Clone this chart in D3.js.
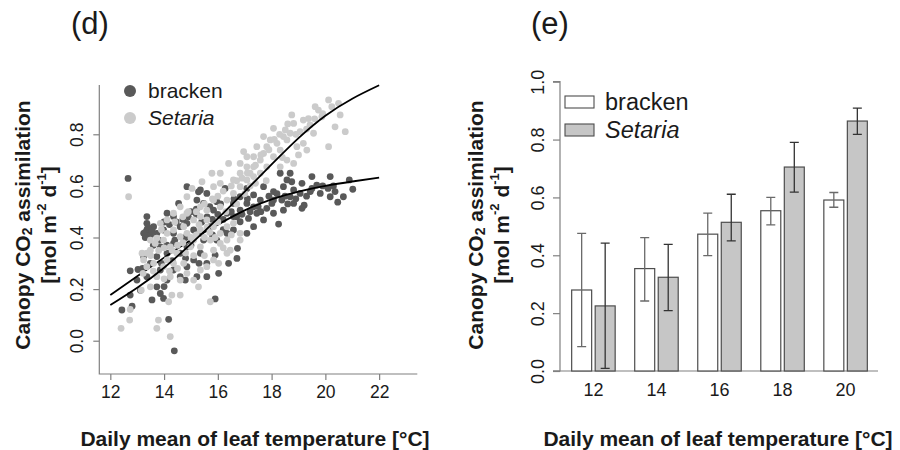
<!DOCTYPE html>
<html>
<head>
<meta charset="utf-8">
<script src="https://cdn.jsdelivr.net/npm/d3@7"></script>
<style>
  body { margin: 0; background: #fff; }
  svg { font-family: "Liberation Sans", Arial, Helvetica, sans-serif; }
</style>
</head>
<body>
<div id="chart"></div>
<script>
// ---- panel (d): daily values, [temperature, assimilation]
var brackenPoints = [
  [12.66,0.629],[12.43,0.119],[12.74,0.177],[12.81,0.134],[12.74,0.271],[13.03,0.276],
  [14.17,0.083],[14.38,-0.039],[15.90,0.162],[16.03,0.261],[15.90,0.332],[16.40,0.300],
  [16.71,0.319],[16.73,0.358],[17.08,0.416],[17.33,0.442],[17.70,0.468],[18.26,0.452],
  [19.21,0.525],[20.46,0.537],[20.67,0.558],[21.02,0.587],[20.89,0.623],[20.18,0.636],
  [19.50,0.636],[18.69,0.649],[18.75,0.616],[18.44,0.597],[19.13,0.610],[19.68,0.603],
  [20.10,0.590],[20.36,0.578],[20.18,0.558],[19.81,0.571],[19.44,0.578],[19.06,0.571],
  [18.69,0.558],[18.38,0.545],[18.01,0.532],[17.82,0.513],[18.07,0.494],[18.44,0.506],
  [18.82,0.532],[17.58,0.545],[17.33,0.565],[17.08,0.532],[16.83,0.506],[16.58,0.481],
  [16.34,0.494],[16.34,0.416],[16.58,0.429],[16.83,0.461],[17.14,0.474],[17.45,0.494],
  [17.70,0.597],[18.07,0.578],[17.08,0.590],[16.27,0.590],[15.59,0.571],[15.35,0.584],
  [15.22,0.545],[15.47,0.532],[15.84,0.506],[16.09,0.468],[15.72,0.442],[15.35,0.416],
  [15.47,0.390],[15.10,0.429],[14.85,0.455],[14.60,0.442],[14.35,0.481],[14.11,0.494],
  [14.54,0.532],[14.35,0.416],[13.98,0.429],[13.73,0.416],[13.36,0.429],[13.24,0.416],
  [13.42,0.403],[13.61,0.442],[13.36,0.455],[13.86,0.364],[14.11,0.339],[13.73,0.326],
  [13.49,0.300],[13.24,0.326],[13.86,0.274],[14.11,0.235],[13.73,0.209],[13.55,0.158],
  [13.86,0.183],[13.98,0.164],[14.35,0.274],[14.60,0.248],[14.85,0.287],[15.10,0.313],
  [15.35,0.339],[15.59,0.300],[15.59,0.248],[15.22,0.248],[14.79,0.235],[14.60,0.339],
  [14.85,0.364],[14.35,0.377],[12.99,0.235],[13.12,0.196],[13.36,0.248],[15.96,0.539],
  [16.58,0.532],[16.83,0.558],[15.96,0.390],[14.85,0.597],[15.28,0.577],[18.32,0.649],
  [18.57,0.623],[18.82,0.584],[18.07,0.545],[19.13,0.513],[17.33,0.519],[13.36,0.481],
  [13.30,0.420],[13.45,0.430],[13.50,0.410],[13.40,0.440],[13.55,0.425],[13.30,0.400],
  [14.00,0.460],[14.20,0.450],[14.45,0.460],[14.70,0.470],[14.90,0.480],[15.00,0.500],
  [15.20,0.490],[15.40,0.460],[15.60,0.480],[15.80,0.470],[16.00,0.490],[16.20,0.470],
  [16.50,0.500],[16.70,0.480],[16.90,0.490],[17.20,0.500],[17.50,0.520],[17.60,0.500],
  [17.90,0.560],[18.20,0.570],[18.50,0.560],[18.60,0.530],[18.90,0.550],[19.30,0.560],
  [19.50,0.590],[19.90,0.600],[20.30,0.600],[17.10,0.550],[16.60,0.550],[16.10,0.530],
  [15.70,0.520],[15.20,0.510],[14.80,0.400],[14.40,0.390],[14.10,0.370],[13.80,0.390],
  [15.00,0.370],[15.80,0.410],[16.20,0.430],[13.90,0.300],[14.30,0.310],[14.80,0.320],
  [15.30,0.300],[13.60,0.370],[14.00,0.210],[13.20,0.280]
];
var setariaPoints = [
  [12.68,0.558],[12.40,0.048],[12.72,0.080],[12.74,0.121],[13.73,0.048],[14.23,0.016],
  [13.79,0.080],[14.17,0.151],[14.29,0.177],[14.60,0.177],[15.28,0.209],[15.72,0.151],
  [13.15,0.196],[13.22,0.261],[13.36,0.287],[13.24,0.313],[13.18,0.339],[13.49,0.351],
  [13.67,0.377],[13.49,0.390],[13.73,0.397],[13.98,0.390],[14.23,0.364],[14.48,0.339],
  [14.73,0.300],[14.35,0.300],[14.11,0.313],[14.85,0.261],[14.60,0.235],[15.10,0.235],
  [15.35,0.274],[15.59,0.287],[15.84,0.313],[16.03,0.300],[16.34,0.339],[16.46,0.351],
  [16.83,0.390],[16.09,0.377],[15.84,0.351],[15.35,0.364],[15.10,0.390],[14.85,0.416],
  [14.60,0.403],[14.35,0.429],[14.11,0.416],[13.86,0.455],[14.11,0.468],[14.35,0.494],
  [14.60,0.519],[14.85,0.494],[15.10,0.468],[15.35,0.481],[15.59,0.468],[15.84,0.442],
  [16.09,0.416],[16.34,0.442],[16.58,0.455],[16.83,0.416],[15.35,0.519],[15.59,0.506],
  [15.84,0.545],[16.09,0.519],[16.34,0.545],[16.58,0.571],[16.83,0.597],[17.08,0.623],
  [17.20,0.649],[17.33,0.674],[17.58,0.700],[17.70,0.726],[17.82,0.752],[17.95,0.778],
  [18.07,0.823],[17.70,0.791],[17.45,0.752],[17.33,0.713],[17.08,0.674],[16.83,0.649],
  [16.58,0.623],[16.40,0.687],[16.09,0.649],[15.78,0.649],[15.41,0.616],[15.04,0.590],
  [14.85,0.558],[16.09,0.610],[15.84,0.597],[17.33,0.636],[17.58,0.649],[17.82,0.674],
  [18.07,0.713],[18.32,0.739],[18.57,0.778],[18.69,0.804],[18.82,0.842],[18.75,0.875],
  [19.06,0.810],[19.18,0.765],[19.31,0.739],[18.94,0.752],[18.82,0.687],[18.57,0.700],
  [18.32,0.674],[18.20,0.765],[18.44,0.791],[18.51,0.817],[19.18,0.855],[19.43,0.836],
  [19.56,0.804],[19.74,0.894],[19.87,0.868],[20.12,0.933],[20.24,0.907],[20.49,0.920],
  [20.55,0.875],[20.36,0.829],[20.12,0.752],[20.74,0.810],[19.62,0.907],[19.37,0.861],
  [16.83,0.687],[17.08,0.713],[16.96,0.733],[14.73,0.442],[14.98,0.364],[13.49,0.209],
  [13.73,0.248],[13.98,0.287],[14.23,0.248],[13.36,0.339],[13.61,0.300],[15.72,0.390],
  [16.34,0.390],[15.35,0.429],
  [13.50,0.330],[13.80,0.350],[14.00,0.360],[14.30,0.350],[14.50,0.370],[14.70,0.380],
  [15.00,0.400],[15.20,0.410],[15.50,0.400],[15.70,0.420],[15.90,0.400],[14.40,0.460],
  [14.70,0.480],[14.90,0.500],[15.20,0.500],[15.50,0.530],[15.80,0.550],[16.00,0.560],
  [16.20,0.580],[16.50,0.600],[16.70,0.620],[16.90,0.630],[17.10,0.650],[17.40,0.680],
  [17.60,0.720],[17.90,0.740],[18.10,0.780],[18.30,0.800],[18.60,0.840],[18.90,0.800],
  [19.30,0.820],[19.60,0.860],[19.90,0.880],[17.20,0.600],[17.00,0.570],[16.70,0.530],
  [16.30,0.500],[16.00,0.460],[15.60,0.440],[15.30,0.450],[14.20,0.270],[14.50,0.280],
  [14.00,0.240],[13.60,0.270],[13.90,0.430],[14.80,0.340],[15.10,0.330],[15.50,0.330],
  [16.20,0.360],[16.50,0.410],[17.40,0.610],[17.80,0.620],[18.40,0.710],[19.00,0.720]
];
// fitted curves
var brackenFit = [[12,0.177],[13,0.25],[14,0.322],[15,0.39],[16,0.45],[17,0.505],[18,0.548],[19,0.578],[20,0.600],[21,0.617],[22,0.632]];
var setariaFit = [[12,0.138],[13,0.205],[14,0.283],[15,0.375],[16,0.474],[17,0.578],[18,0.683],[19,0.785],[20,0.872],[21,0.938],[22,0.99]];
var xTicksD = [12,14,16,18,20,22];
var yTicksD = [0.0,0.2,0.4,0.6,0.8];

// ---- panel (e): binned means with error bars
var tempBins = ["12","14","16","18","20"];
var species = ["bracken","Setaria"];
var brackenMean = [0.280,0.354,0.473,0.554,0.591];
var brackenLow  = [0.084,0.242,0.399,0.505,0.566];
var brackenHigh = [0.476,0.461,0.546,0.600,0.617];
var setariaMean = [0.225,0.324,0.514,0.705,0.864];
var setariaLow  = [0.009,0.209,0.450,0.618,0.818];
var setariaHigh = [0.442,0.438,0.611,0.790,0.909];
var yTicksE = [0.0,0.2,0.4,0.6,0.8,1.0];

var darkPt = "#595959", lightPt = "#cbcbcb", axisCol = "#808080", textCol = "#1a1a1a";

var svg = d3.select("#chart").append("svg")
  .attr("width", 900).attr("height", 450);

// y title helper (two lines, rotated)
function yTitle(x1, x2, cy) {
  var t1 = svg.append("text")
    .attr("transform", "translate(" + x1 + "," + cy + ") rotate(-90)")
    .attr("text-anchor", "middle").attr("dominant-baseline", "central")
    .attr("font-weight", "bold").attr("font-size", 21).attr("fill", textCol);
  t1.append("tspan").text("Canopy CO");
  t1.append("tspan").attr("font-size", 14).attr("dy", 5).text("2");
  t1.append("tspan").attr("dy", -5).text(" assimilation");
  var t2 = svg.append("text")
    .attr("transform", "translate(" + x2 + "," + cy + ") rotate(-90)")
    .attr("text-anchor", "middle").attr("dominant-baseline", "central")
    .attr("font-weight", "bold").attr("font-size", 21).attr("fill", textCol);
  t2.append("tspan").text("[mol m");
  t2.append("tspan").attr("font-size", 13).attr("dy", -7).text("-2");
  t2.append("tspan").attr("dy", 7).text(" d");
  t2.append("tspan").attr("font-size", 13).attr("dy", -7).text("-1");
  t2.append("tspan").attr("dy", 7).text("]");
}

function xTitle(cx) {
  svg.append("text").attr("x", cx).attr("y", 446)
    .attr("text-anchor", "middle").attr("font-weight", "bold")
    .attr("font-size", 21).attr("fill", textCol)
    .text("Daily mean of leaf temperature [°C]");
}

// ================= panel (d) =================
var xD = d3.scaleLinear().domain([11.59, 23.42]).range([99.3, 417.3]);
var yD = d3.scaleLinear().domain([-0.129, 0.991]).range([374, 85]);

svg.append("text").attr("x", 71).attr("y", 34).attr("font-size", 31).attr("fill", textCol).text("(d)");

// L-shaped box
svg.append("path")
  .attr("d", "M" + xD.range()[0] + "," + yD.range()[1] + "V" + yD.range()[0] + "H" + xD.range()[1])
  .attr("fill", "none").attr("stroke", axisCol).attr("stroke-width", 1.2);

var xAxisD = svg.append("g").attr("transform", "translate(0," + yD.range()[0] + ")")
  .call(d3.axisBottom(xD).tickValues(xTicksD).tickSize(6).tickPadding(6).tickFormat(d3.format("d")));
var yAxisD = svg.append("g").attr("transform", "translate(" + xD.range()[0] + ",0)")
  .call(d3.axisLeft(yD).tickValues(yTicksD).tickSize(6).tickFormat(d3.format(".1f")));
[xAxisD, yAxisD].forEach(function(a) {
  a.select(".domain").remove();
  a.selectAll(".tick line").attr("stroke", axisCol).attr("stroke-width", 1.2);
  a.selectAll("text").attr("font-size", 17.5).attr("fill", textCol).attr("font-family", null);
});
yAxisD.selectAll(".tick text")
  .attr("x", null).attr("dy", null)
  .attr("text-anchor", "middle").attr("dominant-baseline", "central")
  .attr("transform", "translate(-22,0) rotate(-90)");

var line = d3.line().x(function(d) { return xD(d[0]); }).y(function(d) { return yD(d[1]); })
  .curve(d3.curveNatural);

svg.append("g").selectAll("circle").data(brackenPoints).enter().append("circle")
  .attr("cx", function(d) { return xD(d[0]); }).attr("cy", function(d) { return yD(d[1]); })
  .attr("r", 3.4).attr("fill", darkPt);
svg.append("path").datum(brackenFit).attr("d", line)
  .attr("fill", "none").attr("stroke", "#000").attr("stroke-width", 1.8);
svg.append("g").selectAll("circle").data(setariaPoints).enter().append("circle")
  .attr("cx", function(d) { return xD(d[0]); }).attr("cy", function(d) { return yD(d[1]); })
  .attr("r", 3.4).attr("fill", lightPt);
svg.append("path").datum(setariaFit).attr("d", line)
  .attr("fill", "none").attr("stroke", "#000").attr("stroke-width", 1.8);

// legend (d)
var legD = svg.append("g");
species.forEach(function(s, i) {
  legD.append("circle").attr("cx", 130).attr("cy", 91 + i * 27).attr("r", 6)
    .attr("fill", i === 0 ? darkPt : lightPt);
  legD.append("text").attr("x", 148).attr("y", 91 + i * 27).attr("dy", "0.35em")
    .attr("font-size", 21).attr("fill", textCol)
    .attr("font-style", i === 0 ? "normal" : "italic").text(s);
});

yTitle(22, 48, 225);
xTitle(255);

// ================= panel (e) =================
var yE = d3.scaleLinear().domain([0, 1]).range([371, 81.7]);
var xE = d3.scaleBand().domain(tempBins).range([561.9, 877.1]).paddingInner(0.31).paddingOuter(0.155);
var xInner = d3.scaleBand().domain(species).range([0, xE.bandwidth()]).paddingInner(0.15);

svg.append("text").attr("x", 531).attr("y", 34).attr("font-size", 31).attr("fill", textCol).text("(e)");

var yAxisE = svg.append("g").attr("transform", "translate(560,0)")
  .call(d3.axisLeft(yE).tickValues(yTicksE).tickSize(7).tickFormat(d3.format(".1f")));
yAxisE.select(".domain").attr("stroke", axisCol).attr("stroke-width", 1.2)
  .attr("d", "M-7," + yE(1) + "H0V" + yE(0) + "H-7");
yAxisE.selectAll(".tick line").attr("stroke", axisCol).attr("stroke-width", 1.2);
yAxisE.selectAll(".tick text")
  .attr("x", null).attr("dy", null).attr("font-size", 18).attr("fill", textCol).attr("font-family", null)
  .attr("text-anchor", "middle").attr("dominant-baseline", "central")
  .attr("transform", "translate(-22,0) rotate(-90)");

// baseline
svg.append("line").attr("x1", 553).attr("x2", 878).attr("y1", yE(0)).attr("y2", yE(0))
  .attr("stroke", axisCol).attr("stroke-width", 1.2);

var barData = [];
tempBins.forEach(function(t, i) {
  barData.push({bin: t, sp: "bracken", mean: brackenMean[i], lo: brackenLow[i], hi: brackenHigh[i]});
  barData.push({bin: t, sp: "Setaria", mean: setariaMean[i], lo: setariaLow[i], hi: setariaHigh[i]});
});

var bars = svg.append("g").selectAll("g").data(barData).enter().append("g")
  .attr("transform", function(d) { return "translate(" + (xE(d.bin) + xInner(d.sp)) + ",0)"; });
bars.append("rect")
  .attr("x", 0).attr("width", xInner.bandwidth())
  .attr("y", function(d) { return yE(d.mean); })
  .attr("height", function(d) { return yE(0) - yE(d.mean); })
  .attr("fill", function(d) { return d.sp === "bracken" ? "#ffffff" : "#c6c6c6"; })
  .attr("stroke", "#4d4d4d").attr("stroke-width", 1.2);
var cx = xInner.bandwidth() / 2;
bars.append("path")
  .attr("d", function(d) {
    return "M" + cx + "," + yE(d.lo) + "V" + yE(d.hi) +
      "M" + (cx - 4.5) + "," + yE(d.hi) + "H" + (cx + 4.5) +
      "M" + (cx - 4.5) + "," + yE(d.lo) + "H" + (cx + 4.5);
  })
  .attr("fill", "none").attr("stroke-width", 1.3)
  .attr("stroke", function(d) { return d.sp === "bracken" ? "#6a6a6a" : "#333333"; });

svg.append("g").attr("transform", "translate(0," + yE(0) + ")")
  .call(d3.axisBottom(xE).tickSize(0).tickPadding(12))
  .call(function(g) {
    g.select(".domain").remove();
    g.selectAll("text").attr("font-size", 18).attr("fill", textCol).attr("font-family", null);
  });

// legend (e)
species.forEach(function(s, i) {
  svg.append("rect").attr("x", 565).attr("y", 96 + i * 28).attr("width", 29).attr("height", 12)
    .attr("fill", i === 0 ? "#ffffff" : "#c6c6c6").attr("stroke", "#4d4d4d").attr("stroke-width", 1.1);
  svg.append("text").attr("x", 605).attr("y", 102 + i * 28).attr("dy", "0.35em")
    .attr("font-size", 23.5).attr("fill", textCol)
    .attr("font-style", i === 0 ? "normal" : "italic").text(s);
});

yTitle(475, 501, 225);
xTitle(718);
</script>
</body>
</html>
